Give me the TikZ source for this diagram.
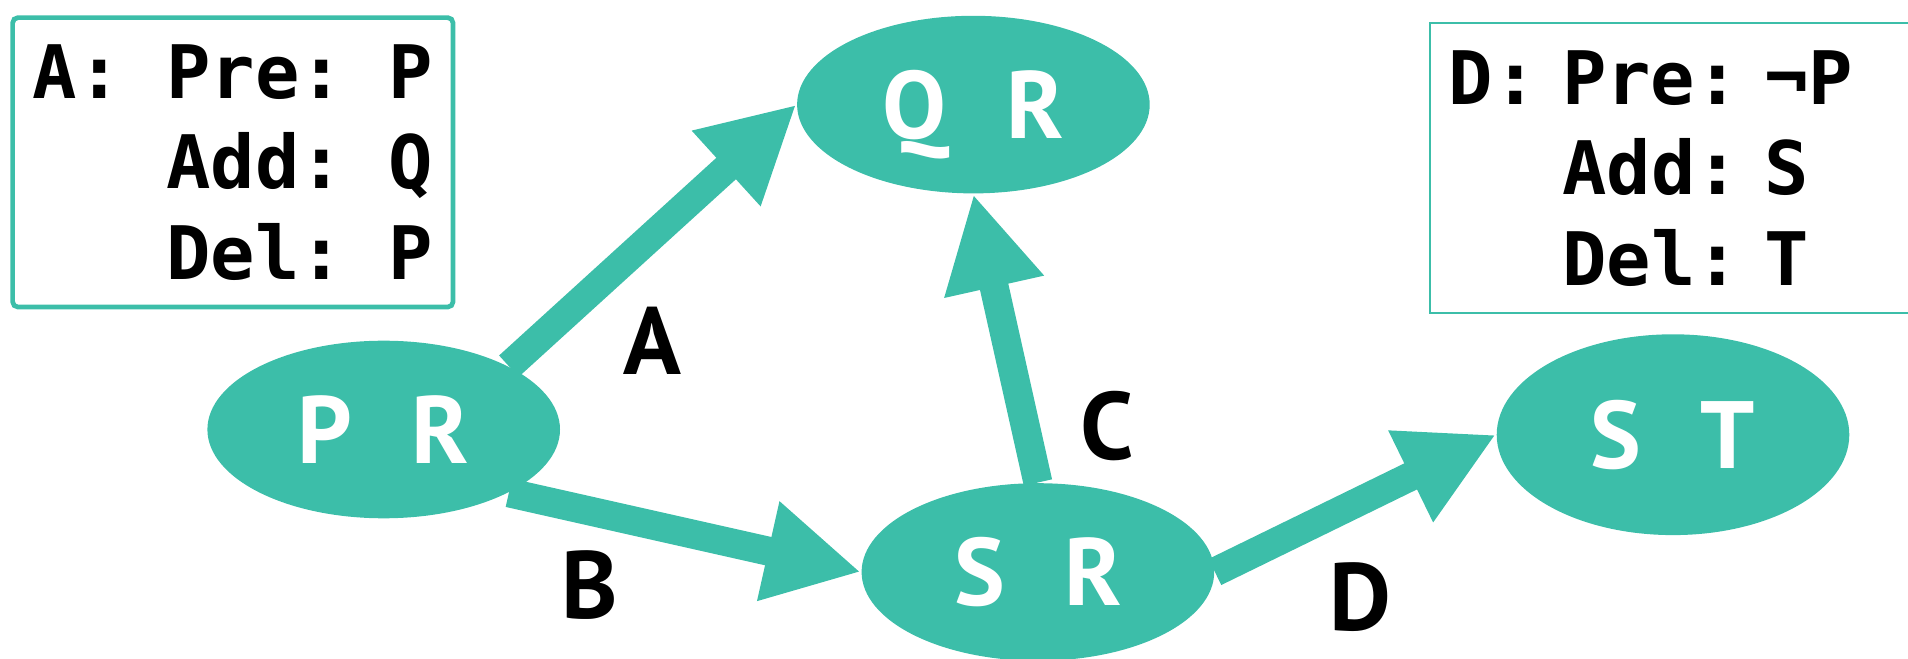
\documentclass[tikz,border=0pt]{standalone}
\usepackage{fontspec}
\usepackage{xcolor}
\usepackage{tikz}
\usetikzlibrary{shapes.geometric,arrows.meta}
\newfontfamily\opfont{DejaVu Sans Mono}
\newfontfamily\statefont{PT Sans}
\definecolor{mint}{HTML}{3CBEA9}
\newcommand{\gap}{\hspace{0.62em}}
\tikzset{
  state/.style={ellipse, fill=mint, text=white, inner sep=0pt,
    minimum width=3.526cm, minimum height=1.776cm,
    font=\statefont\bfseries\fontsize{27.2}{30}\selectfont,
    text height=0.67cm, text depth=0pt},
  act/.style={draw=mint, line width=0.29cm, -{Triangle[length=0.95cm, width=0.95cm]}},
  actlab/.style={text=black, inner sep=0pt,
    font=\statefont\bfseries\fontsize{27.2}{30}\selectfont,
    text height=0.67cm, text depth=0pt},
  opbox/.style={draw=mint, fill=white, anchor=north west, align=left,
    font=\opfont\bfseries\fontsize{21}{25.75}\selectfont},
}

\begin{document}
\begin{tikzpicture}
  \useasboundingbox (0,0) rectangle (19.08,6.58);

  % operator boxes
  \node[opbox, line width=0.047cm, rounded corners=1.5pt, inner sep=0pt,
        minimum width=4.404cm, minimum height=2.894cm] (opA) at (0.103,6.427)
        {A:~Pre:~P\\\phantom{A:~}Add:~Q\\\phantom{A:~}Del:~P};
  \node[opbox, line width=0.017cm, inner xsep=0.19cm, inner ysep=0pt,
        text width=6cm, minimum height=2.897cm] (opD) at (14.288,6.355)
        {D:~Pre:~¬P\\\phantom{D:~}Add:~S\\\phantom{D:~}Del:~T};

  % states
  \node[state] (PR) at (3.837,2.285) {P\gap R};
  \node[state] (QR) at (9.734,5.534) {Q\gap R};
  \node[state] (SR) at (10.379,0.86) {S\gap R};
  \node[state, minimum height=2.008cm] (ST) at (16.73,2.233) {S\gap T};

  % actions
  \draw[act] (PR.north east) -- (QR.west);
  \draw[act] (PR.south east) -- (SR.west);
  \draw[act] (SR.north) -- (QR.south);
  \draw[act] (SR.east) -- (ST.west);

  \node[actlab] (labA) at (6.523,3.17) {A};
  \node[actlab] (labB) at (5.90,0.733) {B};
  \node[actlab] (labC) at (11.075,2.32) {C};
  \node[actlab] (labD) at (13.603,0.607) {D};
\end{tikzpicture}
\end{document}
